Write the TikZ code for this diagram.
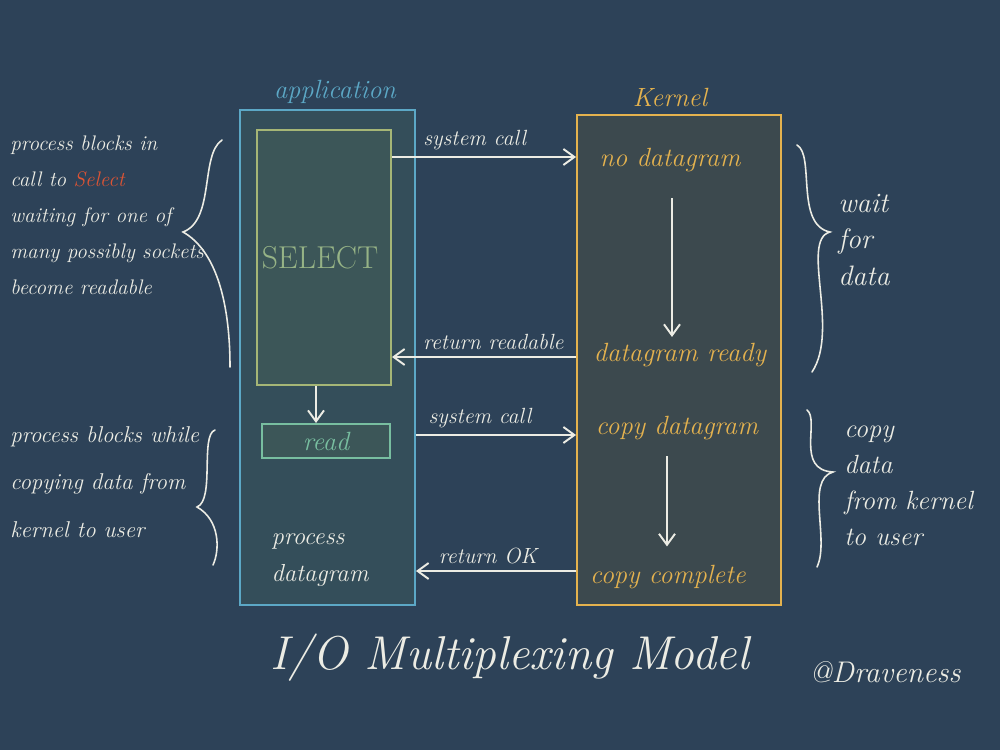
\documentclass[tikz,border=0pt]{standalone}
\usepackage{xcolor}
\usepackage{tikz}
\usetikzlibrary{arrows.meta}

\definecolor{board}{RGB}{45,66,88}
\definecolor{appline}{RGB}{92,168,198}
\definecolor{appfill}{RGB}{52,78,90}
\definecolor{selline}{RGB}{165,182,118}
\definecolor{selfill}{RGB}{60,86,88}
\definecolor{readline}{RGB}{120,190,160}
\definecolor{kernline}{RGB}{228,178,78}
\definecolor{kernfill}{RGB}{60,73,78}
\definecolor{chalk}{RGB}{236,236,228}
\definecolor{chalkred}{RGB}{222,84,52}

\begin{document}
\begin{tikzpicture}[
  font=\itshape\fontsize{12.5}{20}\selectfont, >={Straight Barb[length=2.2mm,width=3.2mm]},
  box/.style={draw, line width=1.1pt, inner sep=0pt},
  hand/.style={chalk, line width=0.9pt, line cap=round},
  call/.style={->, chalk, line width=1.1pt},
  note/.style={text=chalk, align=left, inner sep=0pt},
  ktext/.style={text=kernline, font=\itshape\fontsize{15}{20}\selectfont}]
  \useasboundingbox[fill=board] (0,0) rectangle (20,15);
  % application side
  \node[box, draw=appline, fill=appfill, minimum width=3.5cm, minimum height=9.9cm] (app) at (6.55,7.85) {};
  \node[text=appline, font=\itshape\fontsize{15}{18}\selectfont] (apptitle) at (6.7,13.16) {application};
  \node[box, draw=selline, fill=selfill, minimum width=2.68cm, minimum height=5.1cm] (sel) at (6.48,9.85) {};
  \node[text=selline!80!appline, font=\fontsize{18}{20}\selectfont] (seltext) at (6.4,9.84) {SELECT};
  \node[box, draw=readline, fill=selfill, minimum width=2.56cm, minimum height=0.68cm, text=readline, font=\itshape\fontsize{15}{18}\selectfont] (read) at (6.52,6.18) {read};
  \node[note, align=left, font=\itshape\fontsize{14}{21}\selectfont] (proc) at (6.4,3.8) {process\\datagram};
  % kernel side
  \node[box, draw=kernline, fill=kernfill, minimum width=4.08cm, minimum height=9.8cm] (kern) at (13.58,7.8) {};
  \node[text=kernline, font=\itshape\fontsize{15}{18}\selectfont] (kerntitle) at (13.4,13.06) {Kernel};
  \node[ktext] (nodg) at (13.4,11.8) {no datagram};
  \node[ktext] (rdy) at (13.6,7.9) {datagram ready};
  \node[ktext] (cpd) at (13.54,6.44) {copy datagram};
  \node[ktext] (cpc) at (13.36,3.46) {copy complete};
  % calls between the two
  \draw[call] (sel.east |- 0,11.86) -- node[above, text=chalk, pos=0.45]{system call} (kern.west |- 0,11.86);
  \draw[call] (kern.west |- 0,7.86) -- node[above, text=chalk, pos=0.45]{return readable} (sel.east |- 0,7.86);
  \draw[call] (app.east |- 0,6.3) -- node[above, text=chalk, pos=0.4]{system call} (kern.west |- 0,6.3);
  \draw[call] (kern.west |- 0,3.58) -- node[above, text=chalk, pos=0.55]{return OK} (app.east |- 0,3.58);
  \draw[call] (sel.south -| 6.32,0) -- (read.north -| 6.32,0);
  \draw[call, shorten <=4mm] (nodg.south -| 13.44,0) -- (rdy.north -| 13.44,0);
  \draw[call, shorten <=2mm, shorten >=2.5mm] (cpd.south -| 13.34,0) -- (cpc.north -| 13.34,0);
  % notes and braces
  \node[note, anchor=west, font=\itshape\fontsize{12}{20.5}\selectfont] (waitl) at (0.2,10.7) {process blocks in\\call to \textcolor{chalkred}{Select}\\waiting for one of\\many possibly sockets\\become readable};
  \node[note, anchor=west, font=\itshape\fontsize{13}{27}\selectfont] (copyl) at (0.2,5.36) {process blocks while\\copying data from\\kernel to user};
  \node[note, anchor=west, font=\itshape\fontsize{16}{21}\selectfont] (waitr) at (16.76,10.2) {wait\\for\\data};
  \node[note, anchor=west, font=\itshape\fontsize{15}{20.5}\selectfont] (copyr) at (16.88,5.28) {copy\\data\\from kernel\\to user};
  \draw[hand] (4.44,12.2) .. controls (4.0,11.9) and (4.3,10.6) .. (3.66,10.36) .. controls (4.3,10.0) and (4.6,9.0) .. (4.6,7.66);
  \draw[hand] (4.3,6.4) .. controls (4.0,6.3) and (4.3,5.0) .. (3.94,4.86) .. controls (4.4,4.6) and (4.4,4.0) .. (4.26,3.7);
  \draw[hand] (15.94,12.1) .. controls (16.3,11.9) and (15.9,10.5) .. (16.6,10.36) .. controls (16.0,10.2) and (16.8,8.4) .. (16.24,7.56);
  \draw[hand] (16.14,6.8) .. controls (16.4,6.6) and (15.9,5.6) .. (16.66,5.56) .. controls (16.1,5.4) and (16.6,4.2) .. (16.34,3.66);
  % title and signature
  \node[text=chalk, font=\itshape\fontsize{27}{30}\selectfont] (title) at (10.2,1.84) {I/O Multiplexing Model};
  \node[text=chalk, font=\itshape\fontsize{17}{20}\selectfont] (sign) at (17.7,1.56) {@Draveness};
\end{tikzpicture}
\end{document}
